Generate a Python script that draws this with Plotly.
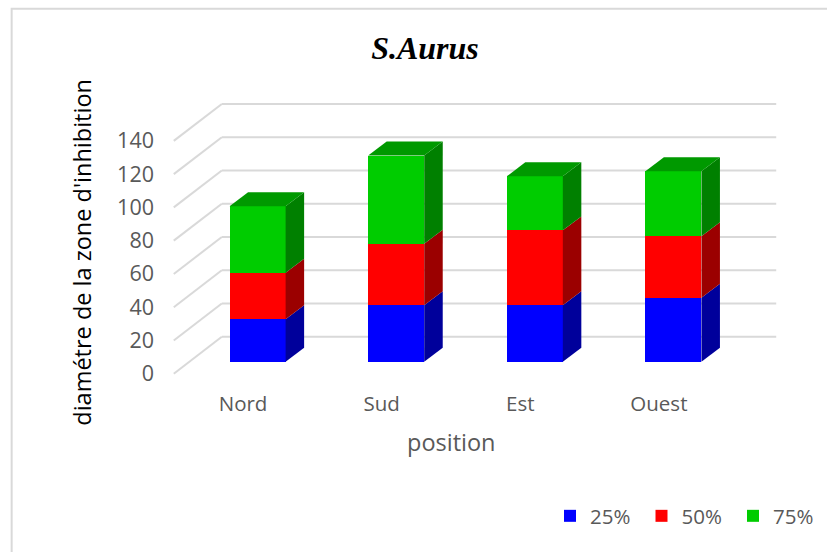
import plotly.graph_objects as go

# Data
positions = ["Nord", "Sud", "Est", "Ouest"]
series_names = ["25%", "50%", "75%"]
values_25 = [25.5, 34, 34, 38.5]
values_50 = [28, 37, 45, 37]
values_75 = [40, 53, 32.5, 39]
y_ticks = [0, 20, 40, 60, 80, 100, 120, 140]

# Styling constants
FRONT_COLORS = ["#0000FF", "#FF0000", "#00CC00"]
SIDE_COLORS = ["#00009B", "#9B0000", "#008000"]
TOP_COLOR = "#009900"
GRID_COLOR = "#D9D9D9"
TEXT_COLOR = "#595959"
FONT = "Open Sans"

WIDTH, HEIGHT = 827, 552
PX_PER_CAT = 138.5
PX_PER_UNIT = 1.667

# Fake 3D depth, converted from pixels to axis units
WALL_DX = 48 / PX_PER_CAT
WALL_DY = 37 / PX_PER_UNIT
BAR_DX = 18.5 / PX_PER_CAT
BAR_DY = 14 / PX_PER_UNIT
BAR_WIDTH = 56 / PX_PER_CAT
BAR_SHIFT_X = 14.5 / PX_PER_CAT
BAR_SHIFT_Y = 12 / PX_PER_UNIT

x_range = [-0.52, 3.5 + WALL_DX + 0.02]
y_range = [-2, 164]
left = 174 - 0.02 * PX_PER_CAT
bottom = HEIGHT - 374 - 2 * PX_PER_UNIT
right = WIDTH - left - (x_range[1] - x_range[0]) * PX_PER_CAT
top = HEIGHT - bottom - (y_range[1] - y_range[0]) * PX_PER_UNIT


def paper_x(px):
    return (px - left) / (WIDTH - left - right)


def paper_y(px):
    return (HEIGHT - bottom - px) / (HEIGHT - top - bottom)


fig = go.Figure()

# Front faces, side faces and top faces of the stacks
all_values = [values_25, values_50, values_75]
bases = [BAR_SHIFT_Y] * len(positions)
x_pos = [i + BAR_SHIFT_X for i in range(len(positions))]
for name, vals, front, side in zip(series_names, all_values, FRONT_COLORS, SIDE_COLORS):
    fig.add_trace(go.Bar(
        x=x_pos, y=vals, base=bases, width=BAR_WIDTH, name=name,
        marker=dict(color=front, line=dict(width=0)),
    ))
    for x0, b, v in zip(x_pos, bases, vals):
        xr = x0 + BAR_WIDTH / 2
        fig.add_trace(go.Scatter(
            x=[xr, xr + BAR_DX, xr + BAR_DX, xr, xr],
            y=[b, b + BAR_DY, b + v + BAR_DY, b + v, b],
            mode="lines", fill="toself", fillcolor=side,
            line=dict(width=0), showlegend=False, hoverinfo="skip",
        ))
    bases = [b + v for b, v in zip(bases, vals)]

for x0, t in zip(x_pos, bases):
    xl, xr = x0 - BAR_WIDTH / 2, x0 + BAR_WIDTH / 2
    fig.add_trace(go.Scatter(
        x=[xl, xr, xr + BAR_DX, xl + BAR_DX, xl],
        y=[t, t, t + BAR_DY, t + BAR_DY, t],
        mode="lines", fill="toself", fillcolor=TOP_COLOR,
        line=dict(width=0), showlegend=False, hoverinfo="skip",
    ))

# Wall and floor gridlines
for v in y_ticks:
    fig.add_shape(type="line", layer="below", x0=-0.5, y0=v,
                  x1=-0.5 + WALL_DX, y1=v + WALL_DY,
                  line=dict(color=GRID_COLOR, width=2))
    fig.add_shape(type="line", layer="below", x0=-0.5 + WALL_DX, y0=v + WALL_DY,
                  x1=3.5 + WALL_DX, y1=v + WALL_DY,
                  line=dict(color=GRID_COLOR, width=2))

# Chart border, only its top and left edges fall inside the picture
fig.add_shape(type="rect", xref="paper", yref="paper", layer="below",
              x0=paper_x(12), x1=paper_x(WIDTH + 20),
              y0=paper_y(HEIGHT + 20), y1=paper_y(8),
              line=dict(color=GRID_COLOR, width=2))

fig.add_annotation(text="diamétre de la zone d'inhibition", textangle=-90,
                   xref="paper", yref="paper", showarrow=False,
                   x=paper_x(82), y=paper_y(252), xanchor="center", yanchor="middle",
                   font=dict(family=FONT, size=23.5, color="#000000"))
fig.add_annotation(text="position", xref="paper", yref="paper", showarrow=False,
                   x=paper_x(452), y=paper_y(443), xanchor="center", yanchor="middle",
                   font=dict(family=FONT, size=23.5, color=TEXT_COLOR))

fig.update_layout(
    width=WIDTH, height=HEIGHT,
    margin=dict(l=left, r=right, t=top, b=bottom, pad=0),
    paper_bgcolor="white", plot_bgcolor="rgba(0,0,0,0)",
    barmode="overlay", bargap=0,
    title=dict(text="<b><i>S.Aurus</i></b>", x=425 / WIDTH, xanchor="center",
               y=1 - 48 / HEIGHT, yanchor="middle",
               font=dict(family="Liberation Serif", size=32, color="#000000")),
    legend=dict(orientation="h", xref="container", yref="container",
                x=(825) / WIDTH, xanchor="right",
                y=1 - 516 / HEIGHT, yanchor="middle",
                font=dict(family=FONT, size=20.5, color=TEXT_COLOR),
                bgcolor="rgba(0,0,0,0)", itemwidth=30,
                entrywidth=46.5, entrywidthmode="pixels"),
    xaxis=dict(range=x_range, tickvals=list(range(len(positions))), ticktext=positions,
               showgrid=False, zeroline=False, showline=False, ticks="",
               ticklabelstandoff=12, tickfont=dict(family=FONT, size=20.5, color=TEXT_COLOR)),
    yaxis=dict(range=y_range, tickvals=y_ticks, showgrid=False, zeroline=False,
               showline=False, ticks="", ticklabelstandoff=16,
               tickfont=dict(family=FONT, size=21.5, color=TEXT_COLOR)),
)

fig.write_html("out.html", config=dict(displayModeBar=False),
               post_script="document.body.style.margin='0';")
